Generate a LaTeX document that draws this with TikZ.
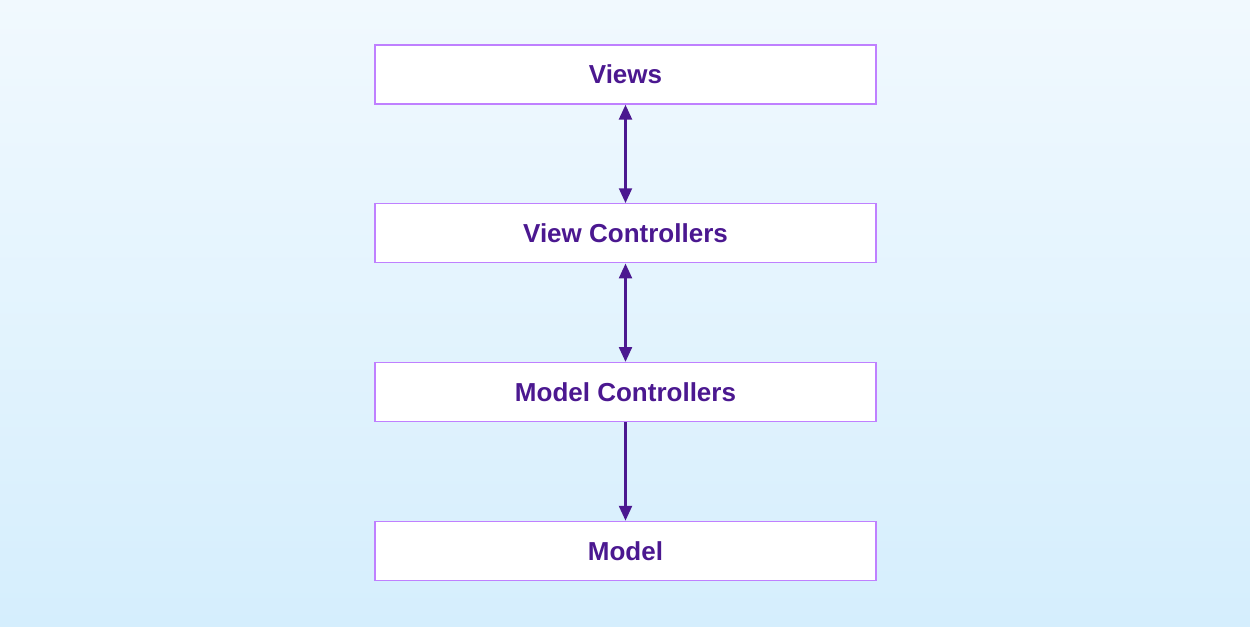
\documentclass[tikz,border=0pt]{standalone}
\usepackage{fontspec}
\setmainfont{Liberation Sans}
\usetikzlibrary{arrows.meta, positioning}

\definecolor{bgtop}{HTML}{F1F9FE}
\definecolor{bgbottom}{HTML}{D5EEFD}
\definecolor{boxline}{HTML}{BF80FF}
\definecolor{inkpurple}{HTML}{4B1890}

\begin{document}
\begin{tikzpicture}[
    node distance=1.975cm,
    >={Triangle[length=0.3cm, width=0.25cm]},
    layer/.style={rectangle, draw=boxline, line width=0.6pt, fill=white, minimum width=10.02cm, minimum height=1.18cm, text=inkpurple, font=\bfseries\fontsize{14.8}{17}\selectfont},
    link/.style={draw=inkpurple, line width=1.9pt}
]

% background
\shade[top color=bgtop, bottom color=bgbottom] (0,0) rectangle (25,-12.52);
\useasboundingbox (0,0) rectangle (25,-12.52);

\node [layer] (views) at (12.51,-1.49) {Views};
\node [layer, below=of views] (viewctrl) {View Controllers};
\node [layer, below=of viewctrl] (modelctrl) {Model Controllers};
\node [layer, below=of modelctrl] (model) {Model};

\path [link, <->] (views) -- (viewctrl);
\path [link, <->] (viewctrl) -- (modelctrl);
\path [link, ->] (modelctrl) -- (model);

\end{tikzpicture}
\end{document}
